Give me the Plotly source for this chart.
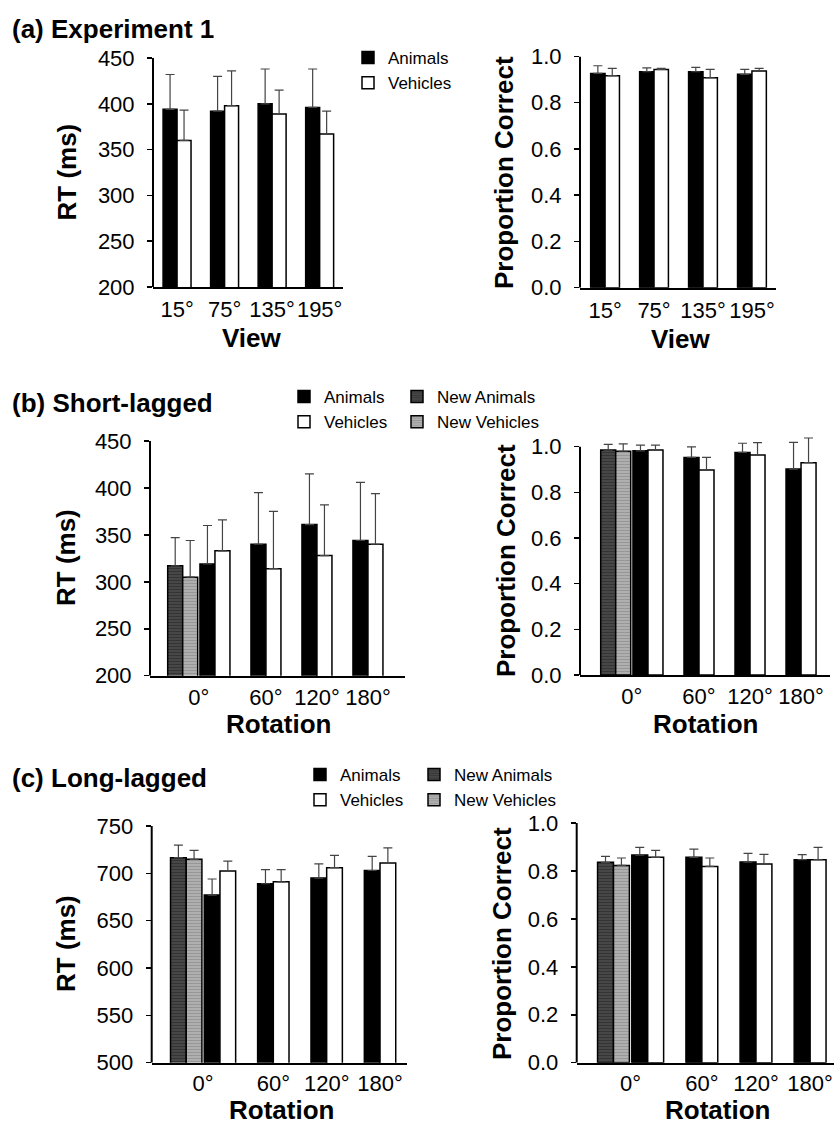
import plotly.graph_objects as go

# ---------------- data ----------------
views = ["15°", "75°", "135°", "195°"]
rotations = ["0°", "60°", "120°", "180°"]

# (a) Experiment 1
a_rt_animals = [394, 392, 400, 396]
a_rt_animals_se = [38, 38, 38, 42]
a_rt_vehicles = [360, 398, 389, 367]
a_rt_vehicles_se = [33, 38, 26, 25]
a_pc_animals = [0.927, 0.934, 0.934, 0.923]
a_pc_animals_se = [0.033, 0.017, 0.019, 0.021]
a_pc_vehicles = [0.917, 0.944, 0.908, 0.937]
a_pc_vehicles_se = [0.032, 0.005, 0.036, 0.012]

# (b) Short-lagged  (new = [New Animals, New Vehicles])
b_rt_new = [317, 305]
b_rt_new_se = [30, 39]
b_rt_animals = [319, 340, 361, 344]
b_rt_animals_se = [41, 55, 54, 62]
b_rt_vehicles = [333, 314, 328, 340]
b_rt_vehicles_se = [33, 61, 54, 54]
b_pc_new = [0.985, 0.980]
b_pc_new_se = [0.025, 0.032]
b_pc_animals = [0.982, 0.953, 0.975, 0.902]
b_pc_animals_se = [0.025, 0.046, 0.040, 0.117]
b_pc_vehicles = [0.985, 0.898, 0.964, 0.930]
b_pc_vehicles_se = [0.022, 0.055, 0.054, 0.108]

# (c) Long-lagged
c_rt_new = [716.5, 714.8]
c_rt_new_se = [13.4, 9.5]
c_rt_animals = [677, 689, 695, 703]
c_rt_animals_se = [17, 15, 15, 15]
c_rt_vehicles = [702.5, 691, 706, 711]
c_rt_vehicles_se = [10.5, 13, 13, 16]
c_pc_new = [0.836, 0.823]
c_pc_new_se = [0.025, 0.031]
c_pc_animals = [0.866, 0.857, 0.837, 0.847]
c_pc_animals_se = [0.032, 0.034, 0.036, 0.021]
c_pc_vehicles = [0.857, 0.819, 0.829, 0.847]
c_pc_vehicles_se = [0.029, 0.035, 0.040, 0.051]

# ---------------- layout helpers ----------------
W, H = 835, 1124
FONT = "Liberation Sans, Arial, Helvetica, sans-serif"
PAIR_STEP = 3.4
NEW_POS = [-2.65, -1.65]


def fx(p):
    return p / W


def fy(p):
    return 1 - p / H


def centers(n):
    return [i * PAIR_STEP for i in range(n)]


def err(se):
    return dict(type="data", symmetric=False, array=se, arrayminus=[0] * len(se),
                color="#444444", thickness=1.2, width=4.5)


fig = go.Figure()


def add_pairs(k, animals, a_se, vehicles, v_se, legend=None):
    c = centers(len(animals))
    xa = "x" if k == 1 else f"x{k}"
    ya = "y" if k == 1 else f"y{k}"
    show = legend is not None
    fig.add_trace(go.Bar(x=[v - 0.5 for v in c], y=animals, width=1, name="Animals",
                         marker=dict(color="black", line=dict(color="black", width=1.5)),
                         error_y=err(a_se), xaxis=xa, yaxis=ya,
                         showlegend=show, legend=legend if show else "legend"))
    fig.add_trace(go.Bar(x=[v + 0.5 for v in c], y=vehicles, width=1, name="Vehicles",
                         marker=dict(color="white", line=dict(color="black", width=1.5)),
                         error_y=err(v_se), xaxis=xa, yaxis=ya,
                         showlegend=show, legend=legend if show else "legend"))


def add_new(k, new, new_se, legend=None):
    xa = f"x{k}"
    ya = f"y{k}"
    show = legend is not None
    specs = [("New Animals", "#4a4a4a", "#1e1e1e"), ("New Vehicles", "#b4b4b4", "#7a7a7a")]
    for i, (nm, bg, fg) in enumerate(specs):
        fig.add_trace(go.Bar(x=[NEW_POS[i]], y=[new[i]], width=1, name=nm,
                             marker=dict(color=bg, line=dict(color="black", width=1.5),
                                         pattern=dict(shape="-", fillmode="overlay",
                                                      fgcolor=fg, size=3, solidity=0.45)),
                             error_y=err([new_se[i]]), xaxis=xa, yaxis=ya,
                             showlegend=show, legend=legend if show else "legend"))


# panel (a)
add_pairs(1, a_rt_animals, a_rt_animals_se, a_rt_vehicles, a_rt_vehicles_se, legend="legend")
add_pairs(2, a_pc_animals, a_pc_animals_se, a_pc_vehicles, a_pc_vehicles_se)
# panel (b)
add_pairs(3, b_rt_animals, b_rt_animals_se, b_rt_vehicles, b_rt_vehicles_se, legend="legend2")
add_new(3, b_rt_new, b_rt_new_se, legend="legend3")
add_pairs(4, b_pc_animals, b_pc_animals_se, b_pc_vehicles, b_pc_vehicles_se)
add_new(4, b_pc_new, b_pc_new_se)
# panel (c)
add_pairs(5, c_rt_animals, c_rt_animals_se, c_rt_vehicles, c_rt_vehicles_se, legend="legend4")
add_new(5, c_rt_new, c_rt_new_se, legend="legend5")
add_pairs(6, c_pc_animals, c_pc_animals_se, c_pc_vehicles, c_pc_vehicles_se)
add_new(6, c_pc_new, c_pc_new_se)

zero_tick = sum(NEW_POS + [-0.5, 0.5]) / 4
rot_ticks = [zero_tick] + centers(len(rotations))[1:]

# (k, xdom px, ydom px (top,bottom), xrange, yrange, axis top value, yticks, fmt, xticks, xlabels, x label standoff)
panels = [
    (1, (153, 343), (58, 287), [-1.72, 11.87], [200, 450], 450, [200, 250, 300, 350, 400, 450], None, centers(4), views, 2),
    (2, (580, 776), (56.5, 287.7), [-1.74, 11.87], [0, 1.0], 1.0, [0, 0.2, 0.4, 0.6, 0.8, 1.0], ".1f", centers(4), views, 2),
    (3, (150, 405), (441, 675.7), [-4.33, 12.67], [200, 450], 450, [200, 250, 300, 350, 400, 450], None, rot_ticks, rotations, 1),
    (4, (580, 830), (433, 675), [-4.53, 12.13], [0, 1.06], 1.0, [0, 0.2, 0.4, 0.6, 0.8, 1.0], ".1f", rot_ticks, rotations, 1),
    (5, (151.7, 406.7), (826, 1062.7), [-4.35, 11.9], [500, 750], 750, [500, 550, 600, 650, 700, 750], None, rot_ticks, rotations, 0),
    (6, (576.7, 834), (823, 1062.7), [-4.46, 11.7], [0, 1.0], 1.0, [0, 0.2, 0.4, 0.6, 0.8, 1.0], ".1f", rot_ticks, rotations, 0),
]

layout = {}
shapes = []
for (k, xd, yd, xr, yr, ytop, yt, fmt, xt, xl, xso) in panels:
    xkey = "xaxis" if k == 1 else f"xaxis{k}"
    ykey = "yaxis" if k == 1 else f"yaxis{k}"
    xa = "x" if k == 1 else f"x{k}"
    ya = "y" if k == 1 else f"y{k}"
    layout[xkey] = dict(domain=[fx(xd[0]), fx(xd[1])], range=xr, anchor=ya,
                        showline=True, linecolor="black", linewidth=2,
                        showgrid=False, zeroline=False, ticks="", automargin=False,
                        tickmode="array", tickvals=xt, ticktext=xl,
                        tickfont=dict(family=FONT, size=22, color="black"),
                        ticklabelstandoff=xso, fixedrange=True)
    layout[ykey] = dict(domain=[fy(yd[1]), fy(yd[0])], range=yr, anchor=xa,
                        showline=False, showgrid=False, zeroline=False, automargin=False,
                        ticks="outside", ticklen=5, tickwidth=1.5, tickcolor="black",
                        tickmode="array", tickvals=yt,
                        tickformat=fmt if fmt else "d",
                        tickfont=dict(family=FONT, size=22, color="black"),
                        ticklabelstandoff=8, fixedrange=True)
    shapes.append(dict(type="line", xref=f"{xa} domain", yref=ya, x0=0, x1=0,
                       y0=yr[0], y1=ytop, line=dict(color="black", width=2)))

ann = []


def text(x, y, s, size, bold=False, angle=0, xanchor="center"):
    ann.append(dict(x=fx(x), y=fy(y), xref="paper", yref="paper", text=f"<b>{s}</b>" if bold else s,
                    showarrow=False, textangle=angle, xanchor=xanchor, yanchor="middle",
                    font=dict(family=FONT, size=size, color="black")))


text(10, 29, "(a) Experiment 1", 26, bold=True, xanchor="left")
text(10, 403, "(b) Short-lagged", 26, bold=True, xanchor="left")
text(10, 778, "(c) Long-lagged", 26, bold=True, xanchor="left")

text(66, 172.5, "RT (ms)", 26, bold=True, angle=-90)
text(504, 172, "Proportion Correct", 26, bold=True, angle=-90)
text(252, 338, "View", 26, bold=True)
text(681, 339, "View", 26, bold=True)

text(66, 558, "RT (ms)", 26, bold=True, angle=-90)
text(506, 561, "Proportion Correct", 26, bold=True, angle=-90)
text(278, 724, "Rotation", 26, bold=True)
text(705, 724, "Rotation", 26, bold=True)

text(66, 944, "RT (ms)", 26, bold=True, angle=-90)
text(502, 944, "Proportion Correct", 26, bold=True, angle=-90)
text(281, 1110, "Rotation", 26, bold=True)
text(717, 1110, "Rotation", 26, bold=True)


def leg(x, y):
    return dict(x=fx(x), y=fy(y), xref="paper", yref="paper", xanchor="left", yanchor="top",
                bgcolor="rgba(0,0,0,0)", borderwidth=0, tracegroupgap=0, itemwidth=30,
                font=dict(family=FONT, size=17, color="black"), traceorder="normal")


fig.update_layout(
    template="none",
    width=W, height=H, autosize=False,
    margin=dict(l=0, r=0, t=0, b=0, pad=0, autoexpand=False),
    paper_bgcolor="white", plot_bgcolor="white",
    barmode="overlay", bargap=0,
    showlegend=True,
    legend=leg(348, 40),
    legend2=leg(284, 379),
    legend3=leg(397, 379),
    legend4=leg(300, 757),
    legend5=leg(414, 757),
    annotations=ann,
    shapes=shapes,
    **layout,
)

fig.write_html("out.html",
               config={"displayModeBar": False, "staticPlot": True},
               post_script="document.body.style.margin='0';document.body.style.overflow='hidden';")
